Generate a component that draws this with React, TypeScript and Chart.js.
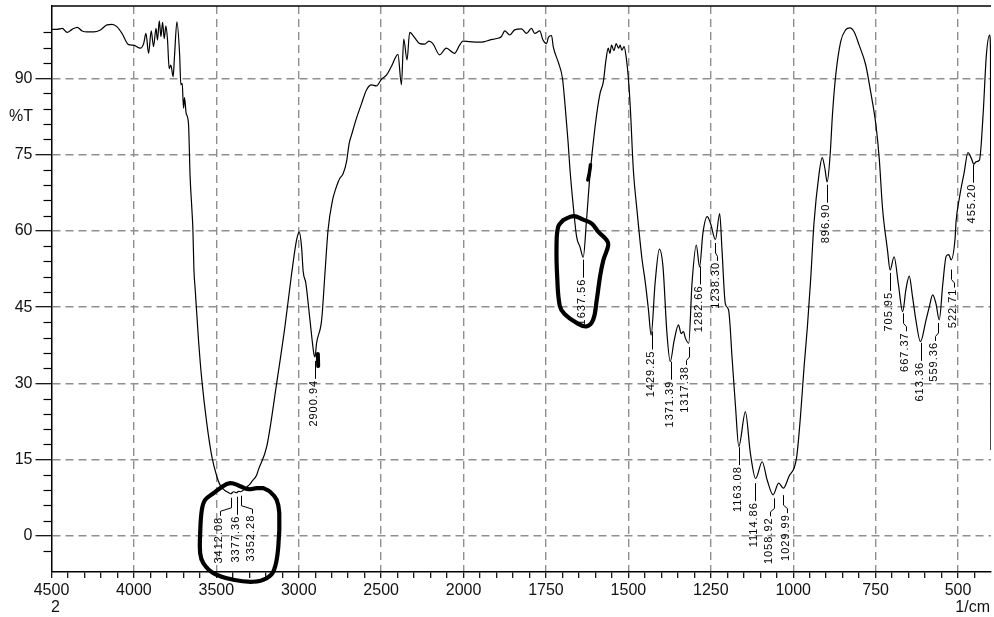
import React, { useEffect, useRef } from 'react';
import { Chart, registerables, LinearScale } from 'chart.js';

// ---------- axis definition ----------
const X_START = 4500; // left end (1/cm)
const X_END = 400; // right end (1/cm)
const X_BREAK = 2000; // below this the axis is expanded
const X_EXPAND = 2; // expansion factor below the break
const Y_MIN = -7.08;
const Y_MAX = 104.2;

const X_TICK_LABELS = [4500, 4000, 3500, 3000, 2500, 2000, 1750, 1500, 1250, 1000, 750, 500];
const Y_TICK_LABELS = [0, 15, 30, 45, 60, 75, 90];

// ---------- spectrum ----------
const WAVENUMBERS = [
  4496, 4466, 4435, 4405, 4375, 4344, 4314, 4284, 4244, 4203, 4163, 4133, 4102, 4072, 4032, 4002,
  3961, 3941, 3927, 3911, 3895, 3881, 3866, 3857, 3846, 3836, 3826, 3816, 3806, 3796, 3786, 3776,
  3762, 3754, 3739, 3723, 3715, 3707, 3699, 3693, 3683, 3669, 3659, 3648, 3642, 3636, 3628, 3608,
  3588, 3558, 3527, 3497, 3477, 3450, 3430, 3412, 3395, 3377, 3365, 3352, 3330, 3316, 3296, 3285,
  3255, 3245, 3194, 3134, 3084, 3043, 3013, 2997, 2983, 2973, 2957, 2932, 2908, 2901, 2892, 2861,
  2841, 2822, 2795, 2781, 2761, 2751, 2731, 2710, 2694, 2680, 2650, 2619, 2589, 2559, 2529, 2498,
  2468, 2438, 2398, 2377, 2363, 2343, 2327, 2297, 2266, 2236, 2210, 2186, 2145, 2105, 2055, 2024,
  2004, 1982, 1956, 1936, 1921, 1900, 1885, 1875, 1860, 1845, 1824, 1809, 1794, 1784, 1769, 1759,
  1748, 1743, 1733, 1728, 1713, 1700, 1693, 1683, 1677, 1667, 1657, 1647, 1637, 1627, 1617, 1601,
  1586, 1576, 1568, 1561, 1556, 1551, 1544, 1537, 1530, 1525, 1520, 1513, 1507, 1500, 1494, 1485,
  1474, 1459, 1449, 1439, 1431, 1419, 1406, 1395, 1383, 1373, 1361, 1348, 1340, 1333, 1327, 1317,
  1307, 1294, 1284, 1274, 1261, 1251, 1236, 1223, 1216, 1206, 1196, 1185, 1175, 1165, 1145, 1130,
  1114, 1094, 1079, 1061, 1044, 1030, 1013, 990, 978, 967, 957, 947, 937, 922, 912, 904,
  897, 888, 881, 871, 856, 841, 828, 815, 800, 780, 765, 749, 739, 729, 714, 706,
  694, 681, 668, 658, 648, 638, 628, 614, 597, 587, 577, 567, 557, 546, 536, 528,
  521, 509, 506, 496, 481, 470, 460, 452, 445, 435, 424, 414, 404, 401.5, 400.8, 400.3,
];
const TRANSMITTANCE = [
  99.6, 99.6, 99.8, 99.0, 99.6, 100.0, 99.3, 99.1, 99.1, 99.5, 100.5, 100.6, 100.1, 98.8, 96.6, 96.5,
  95.9, 96.8, 98.8, 94.9, 99.3, 96.2, 99.8, 97.5, 101.3, 98.2, 101.0, 97.8, 100.3, 97.5, 91.9, 92.6,
  90.3, 94.2, 101.1, 94.9, 88.7, 89.0, 84.1, 86.2, 83.1, 81.1, 70.6, 64.1, 60.2, 52.5, 48.4, 38.5,
  30.7, 22.2, 15.6, 11.7, 10.0, 9.0, 8.6, 8.3, 8.7, 8.5, 8.8, 8.7, 9.2, 9.6, 10.2, 10.7,
  12.0, 13.0, 17.6, 30.0, 41.1, 51.6, 58.2, 59.8, 56.9, 52.0, 49.7, 42.5, 35.8, 35.2, 37.9, 42.5,
  51.6, 60.2, 66.0, 67.7, 69.6, 70.3, 71.2, 73.6, 77.2, 78.8, 82.1, 85.0, 87.7, 88.7, 88.5, 89.8,
  90.6, 92.3, 94.7, 88.7, 97.7, 93.6, 99.0, 98.0, 96.8, 96.7, 97.3, 96.8, 94.6, 95.9, 94.9, 96.5,
  97.3, 97.2, 97.1, 97.2, 97.5, 97.8, 98.2, 99.3, 98.5, 99.5, 99.7, 98.8, 99.8, 98.8, 99.3, 97.5,
  96.8, 98.0, 98.4, 96.2, 93.2, 90.0, 85.4, 77.5, 71.9, 64.7, 58.8, 56.9, 54.8, 62.1, 70.6, 80.5,
  87.0, 89.3, 93.6, 95.9, 94.9, 96.5, 95.4, 96.8, 95.9, 96.5, 95.5, 96.2, 94.3, 90.0, 84.0, 72.0,
  64.1, 54.6, 50.0, 44.4, 39.5, 49.7, 56.4, 52.9, 39.8, 34.3, 38.5, 41.5, 39.8, 40.2, 38.9, 37.9,
  49.7, 57.2, 52.9, 59.5, 62.8, 61.5, 58.3, 63.4, 56.2, 45.7, 44.4, 34.6, 25.4, 17.6, 24.4, 16.3,
  11.3, 14.6, 11.0, 8.1, 10.4, 9.4, 11.7, 15.3, 23.5, 33.3, 41.1, 50.5, 61.5, 71.0, 74.4, 72.3,
  69.6, 74.9, 82.8, 90.6, 97.2, 99.5, 99.9, 99.1, 96.5, 92.6, 87.3, 80.8, 74.2, 64.4, 56.2, 52.3,
  54.9, 49.5, 44.1, 48.5, 51.1, 47.0, 42.5, 38.2, 42.5, 45.1, 47.4, 45.7, 42.5, 49.7, 55.0, 55.3,
  54.3, 58.5, 61.8, 66.4, 71.6, 75.4, 74.3, 73.1, 73.6, 73.9, 82.8, 94.6, 98.5, 95.0, 40.0, 16.9,
];

// ---------- peak labels ----------
const PEAK_LABELS = [
  '3412.08', '3377.36', '3352.28', '2900.94', '1637.56', '1429.25', '1371.39', '1317.38', '1282.66',
  '1238.30', '1163.08', '1114.86', '1058.92', '1029.99', '896.90', '705.95', '667.37', '613.36',
  '559.36', '522.71', '455.20',
];
const PEAK_WAVENUMBERS = [
  3412.08, 3377.36, 3352.28, 2900.94, 1637.56, 1429.25, 1371.39, 1317.38, 1282.66, 1238.3, 1163.08,
  1114.86, 1058.92, 1029.99, 896.9, 705.95, 667.37, 613.36, 559.36, 522.71, 455.2,
];
// leader styling (pixels)
const LABEL_BEND = [-11, 0, 11, 0, 0, 0, 0, -3, 0, 2, 0, 0, -4, 4, 0, 0, 3, 0, -3, 3, 0];
const LABEL_GAP = [4, 4, 4, 4, 3, 4, 3, 4, 4, 6, 4, 6, 5, 7, 3, 3, 3, 2, 7, 11, 3];

// ---------- hand-drawn marks (data coordinates) ----------
const CIRCLE_A_W = [3215, 3255, 3306, 3356, 3417, 3477, 3518, 3568, 3588, 3598, 3598, 3578, 3518, 3397, 3276, 3194, 3150, 3124, 3118, 3134, 3174, 3215];
const CIRCLE_A_T = [9.4, 9.4, 9.2, 9.8, 10.4, 9.4, 8.4, 7.1, 5.1, 0.5, -3.4, -5.4, -7.3, -8.6, -9.0, -8.3, -6.7, -2.1, 4.5, 7.1, 8.7, 9.4];
const CIRCLE_B_W = [1698, 1667, 1637, 1611, 1591, 1566, 1561, 1576, 1586, 1596, 1607, 1627, 1657, 1693, 1708, 1716, 1718, 1713, 1698];
const CIRCLE_B_T = [62.1, 62.9, 62.2, 61.4, 59.8, 58.2, 57.2, 54.2, 51.0, 46.4, 42.5, 41.2, 41.9, 43.6, 45.2, 51.0, 56.9, 60.8, 62.1];
const MARK_A_W = [2884, 2882];
const MARK_A_T = [35.8, 33.4];
const MARK_B_W = [1615, 1618, 1623];
const MARK_B_T = [73.0, 71.5, 70.0];

const FONT = '"Liberation Sans", Arial, Helvetica, sans-serif';

// ---------- split wavenumber scale ----------
const SPAN_TOTAL = (X_START - X_BREAK) + (X_BREAK - X_END) * X_EXPAND;
function toFrac(w: number) {
  if (w >= X_BREAK) return (X_START - w) / SPAN_TOTAL;
  return ((X_START - X_BREAK) + (X_BREAK - w) * X_EXPAND) / SPAN_TOTAL;
}
function fromFrac(f: number) {
  const u = f * SPAN_TOTAL;
  if (u <= X_START - X_BREAK) return X_START - u;
  return X_BREAK - (u - (X_START - X_BREAK)) / X_EXPAND;
}

class SplitWavenumberScale extends (LinearScale as any) {
  static id = 'splitWavenumber';
  static defaults = (LinearScale as any).defaults;
  getPixelForValue(value: number) {
    return (this as any).getPixelForDecimal(toFrac(value));
  }
  getValueForPixel(pixel: number) {
    return fromFrac((this as any).getDecimalForPixel(pixel));
  }
}

Chart.register(...registerables, SplitWavenumberScale as any);

function interpT(w: number) {
  for (let i = 0; i < WAVENUMBERS.length - 1; i++) {
    const a = WAVENUMBERS[i];
    const b = WAVENUMBERS[i + 1];
    if (w <= a && w >= b) {
      const t = (a - w) / (a - b);
      return TRANSMITTANCE[i] + t * (TRANSMITTANCE[i + 1] - TRANSMITTANCE[i]);
    }
  }
  return TRANSMITTANCE[TRANSMITTANCE.length - 1];
}

const isXMajor = (v: number) => X_TICK_LABELS.includes(v);
const isYMajor = (v: number) => Y_TICK_LABELS.some((t) => Math.abs(t - v) < 1e-6);
const isYMinor = (v: number) => Math.abs(v / 3 - Math.round(v / 3)) < 1e-6 && !isYMajor(v);

const decorPlugin = {
  id: 'decor',
  afterDraw(chart: any) {
    const { ctx, chartArea, scales } = chart;
    const y = scales.y;
    ctx.save();
    // top frame line
    ctx.strokeStyle = '#000';
    ctx.lineWidth = 1.5;
    ctx.beginPath();
    ctx.moveTo(chartArea.left, chartArea.top);
    ctx.lineTo(chartArea.right, chartArea.top);
    ctx.stroke();
    // minor y ticks
    ctx.lineWidth = 1.2;
    y.ticks.forEach((t: any) => {
      if (!isYMinor(t.value)) return;
      const py = Math.round(y.getPixelForValue(t.value)) + 0.5;
      ctx.beginPath();
      ctx.moveTo(chartArea.left - 8, py);
      ctx.lineTo(chartArea.left, py);
      ctx.stroke();
    });
    // axis texts
    ctx.fillStyle = '#111';
    ctx.font = `16px ${FONT}`;
    ctx.textBaseline = 'alphabetic';
    ctx.textAlign = 'right';
    ctx.fillText('%T', 33, 121);
    ctx.fillText('1/cm', 990, 612);
    ctx.textAlign = 'left';
    ctx.fillText('2', 51, 612);
    ctx.restore();
  },
  afterDatasetsDraw(chart: any) {
    const { ctx, scales } = chart;
    const x = scales.x;
    const y = scales.y;
    ctx.save();
    ctx.strokeStyle = '#000';
    ctx.fillStyle = '#000';
    ctx.lineWidth = 1;
    ctx.font = `11px ${FONT}`;
    (ctx as any).letterSpacing = '1px';
    PEAK_WAVENUMBERS.forEach((w, i) => {
      const px = Math.round(x.getPixelForValue(w)) + 0.5;
      const py = y.getPixelForValue(interpT(w));
      const bend = LABEL_BEND[i];
      const y0 = py + LABEL_GAP[i];
      ctx.beginPath();
      ctx.moveTo(px, y0);
      if (bend) {
        ctx.lineTo(px, y0 + 10);
        ctx.lineTo(px + bend, y0 + 13.5);
        ctx.lineTo(px + bend, y0 + 18);
      } else {
        ctx.lineTo(px, y0 + 18);
      }
      ctx.stroke();
      ctx.save();
      ctx.translate(px + bend - 1.5, y0 + 20);
      ctx.rotate(-Math.PI / 2);
      ctx.textAlign = 'right';
      ctx.textBaseline = 'middle';
      ctx.fillText(PEAK_LABELS[i], 1, 0);
      ctx.restore();
    });
    ctx.restore();
  },
};

function toPoints(ws: number[], ts: number[]) {
  return ws.map((w, i) => ({ x: w, y: ts[i] }));
}

export default function App() {
  const canvasRef = useRef<HTMLCanvasElement | null>(null);

  useEffect(() => {
    if (!canvasRef.current) return;
    const handMark = (ws: number[], ts: number[], width: number) => ({
      data: toPoints(ws, ts),
      borderColor: '#000',
      borderWidth: width,
      pointRadius: 0,
      tension: 0.4,
      clip: false,
      borderCapStyle: 'round',
      borderJoinStyle: 'round',
      fill: false,
    });
    const chart = new Chart(canvasRef.current, {
      type: 'line',
      data: {
        datasets: [
          handMark(CIRCLE_A_W, CIRCLE_A_T, 4.2) as any,
          handMark(CIRCLE_B_W, CIRCLE_B_T, 4.2) as any,
          handMark(MARK_A_W, MARK_A_T, 4) as any,
          handMark(MARK_B_W, MARK_B_T, 3.5) as any,
          {
            data: toPoints(WAVENUMBERS, TRANSMITTANCE),
            borderColor: '#000',
            borderWidth: 1.2,
            pointRadius: 0,
            tension: 0.4,
            cubicInterpolationMode: 'monotone',
            fill: false,
          } as any,
        ],
      },
      options: {
        animation: false,
        responsive: false,
        events: [],
        layout: { padding: { left: 0, top: 6, right: 3, bottom: 0 } },
        plugins: { legend: { display: false }, tooltip: { enabled: false } },
        scales: {
          x: {
            type: 'splitWavenumber' as any,
            min: X_END,
            max: X_START,
            afterBuildTicks: (scale: any) => {
              scale.ticks = scale.ticks.filter((t: any) => t.value < X_BREAK || t.value % 100 === 0);
            },
            afterFit: (scale: any) => {
              scale.height = 45;
              scale.paddingLeft = 0;
              scale.paddingRight = 0;
              scale.paddingTop = 0;
              scale.paddingBottom = 0;
            },
            ticks: {
              stepSize: 50,
              autoSkip: false,
              maxRotation: 0,
              minRotation: 0,
              padding: 3,
              color: '#111',
              font: { family: FONT, size: 16 },
              callback: (v: any) => (isXMajor(Number(v)) ? String(v) : ''),
            },
            grid: {
              color: (c: any) => (c.tick && isXMajor(c.tick.value) && c.tick.value !== X_START ? '#8f8f8f' : 'transparent'),
              lineWidth: 1.4,
              drawTicks: true,
              tickLength: 6,
              tickWidth: 1.2,
              tickColor: (c: any) => (c.tick && c.tick.value === X_END ? 'transparent' : '#000'),
              tickBorderDash: [],
            } as any,
            border: { display: true, color: '#000', width: 1.5, dash: [8, 5] },
          } as any,
          y: {
            type: 'linear',
            min: Y_MIN,
            max: Y_MAX,
            afterFit: (scale: any) => {
              scale.width = 51.5;
              scale.paddingTop = 0;
              scale.paddingBottom = 0;
              scale.paddingLeft = 0;
              scale.paddingRight = 0;
            },
            ticks: {
              stepSize: 3,
              autoSkip: false,
              padding: 3,
              color: '#111',
              font: { family: FONT, size: 16 },
              callback: (v: any) => (isYMajor(Number(v)) ? String(Math.round(Number(v))) : ''),
            },
            grid: {
              color: (c: any) => (c.tick && isYMajor(c.tick.value) ? '#8f8f8f' : 'transparent'),
              lineWidth: 1.4,
              drawTicks: true,
              tickLength: 16,
              tickWidth: 1.2,
              tickColor: (c: any) => (c.tick && isYMajor(c.tick.value) ? '#000' : 'transparent'),
              tickBorderDash: [],
            } as any,
            border: { display: true, color: '#000', width: 1.5, dash: [8, 5] },
          } as any,
        },
      },
      plugins: [decorPlugin as any],
    });
    return () => chart.destroy();
  }, []);

  return (
    <div style={{ position: 'fixed', left: 0, top: 0, width: 994, height: 617, background: '#fff' }}>
      <canvas ref={canvasRef} width={994} height={617} style={{ display: 'block', width: 994, height: 617 }} />
    </div>
  );
}
